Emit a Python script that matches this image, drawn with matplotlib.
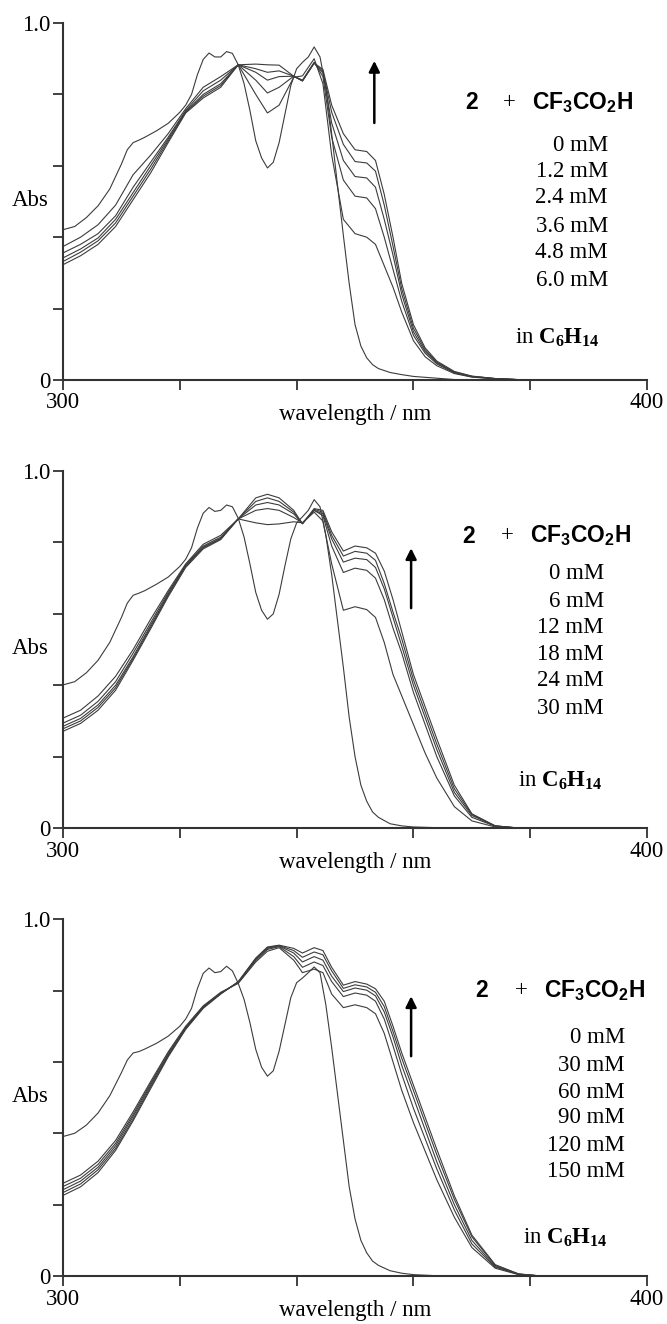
import numpy as np
import matplotlib
matplotlib.use('Agg')
import matplotlib.pyplot as plt

plt.rcParams['font.family'] = ['Liberation Serif', 'DejaVu Serif']
plt.rcParams['mathtext.fontset'] = 'custom'
plt.rcParams['mathtext.rm'] = 'Liberation Serif'
plt.rcParams['mathtext.bf'] = 'Liberation Serif:bold'
plt.rcParams['mathtext.sf'] = 'Liberation Sans:bold'

# wavelength grids (nm)
wl_n = [300, 302, 304, 306, 308, 310, 311, 312, 313, 314, 316, 318, 320, 321, 322,
        323, 324, 325, 326, 327, 328, 329, 330, 331, 332, 333, 334, 335, 336, 337,
        338, 339, 340, 341, 342, 343, 344, 345, 346, 347, 348, 349, 350, 351, 352,
        353, 354, 356, 358, 360, 364, 368]
wl_a = [300, 303, 306, 309, 312, 315, 318, 321, 324, 327, 330, 333, 335, 337, 339.5,
        341, 343, 344.5, 346, 348, 350, 352, 353.5, 355, 356.5, 358, 360, 362, 364,
        367, 370, 374, 378, 382]

# ---- panel 1 : 0 - 6.0 mM
conc_1 = ['0 mM', '1.2 mM', '2.4 mM', '3.6 mM', '4.8 mM', '6.0 mM']
neutral_1 = [.421, .43, .455, .488, .535, .605, .645, .665, .672, .68, .698, .719, .75, .77, .80,
             .855, .898, .916, .905, .905, .92, .915, .883, .83, .755, .67, .622, .594, .61, .665,
             .745, .825, .872, .89, .905, .933, .905, .82, .69, .545, .405, .27, .155, .095, .062,
             .043, .032, .021, .015, .01, .005, 0]
acid_1 = [
    [.374, .40, .435, .49, .575, .63, .69, .76, .82, .85, .883, .80, .748, .77, .848, .852, .90, .83,
     .63, .45, .41, .40, .38, .32, .26, .19, .11, .065, .04, .018, .008, .003, .001, 0],
    [.356, .38, .41, .46, .54, .61, .68, .755, .81, .84, .883, .84, .804, .82, .851, .84, .89, .85,
     .68, .56, .515, .51, .48, .40, .31, .22, .125, .075, .045, .02, .009, .003, .001, 0],
    [.342, .367, .398, .45, .525, .60, .675, .752, .80, .83, .883, .862, .84, .85, .851, .838, .888, .86,
     .72, .615, .57, .566, .54, .45, .35, .24, .135, .08, .048, .021, .01, .004, .001, 0],
    [.332, .358, .39, .44, .515, .59, .67, .75, .795, .825, .883, .872, .862, .866, .851, .838, .888, .865,
     .75, .66, .612, .608, .585, .49, .375, .255, .145, .085, .05, .022, .01, .004, .001, 0],
    [.323, .348, .38, .43, .505, .58, .665, .748, .79, .82, .883, .885, .883, .882, .851, .838, .888, .87,
     .77, .69, .645, .64, .615, .52, .40, .27, .155, .09, .053, .024, .011, .004, .001, 0],
]

# ---- panel 2 : 0 - 30 mM
conc_2 = ['0 mM', '6 mM', '12 mM', '18 mM', '24 mM', '30 mM']
neutral_2 = [.401, .41, .435, .47, .52, .59, .63, .652, .658, .665, .683, .703, .733, .753, .785,
             .84, .882, .898, .887, .89, .905, .90, .868, .815, .74, .66, .61, .585, .60, .655,
             .735, .81, .855, .872, .89, .92, .90, .82, .71, .58, .45, .31, .20, .12, .075,
             .045, .03, .012, .006, .003, .001, 0]
acid_2 = [
    [.308, .33, .37, .425, .50, .585, .665, .74, .795, .82, .866, .855, .85, .852, .858, .855, .885, .86,
     .74, .61, .62, .612, .59, .52, .43, .37, .29, .21, .14, .06, .02, .003, 0, 0],
    [.294, .316, .355, .41, .49, .575, .66, .737, .79, .815, .866, .89, .895, .89, .87, .855, .89, .875,
     .79, .716, .728, .722, .70, .64, .56, .49, .38, .29, .20, .09, .03, .005, 0, 0],
    [.285, .307, .345, .40, .48, .568, .655, .735, .787, .812, .866, .905, .912, .905, .88, .853, .89, .88,
     .81, .745, .756, .752, .73, .67, .59, .51, .40, .31, .22, .10, .035, .006, 0, 0],
    [.278, .30, .338, .393, .475, .563, .652, .733, .785, .81, .866, .915, .925, .915, .885, .853, .893, .885,
     .82, .762, .775, .77, .75, .685, .605, .53, .415, .325, .235, .11, .038, .006, 0, 0],
    [.271, .293, .33, .386, .47, .558, .648, .73, .782, .808, .866, .925, .935, .925, .89, .852, .895, .89,
     .83, .776, .79, .785, .77, .72, .64, .55, .43, .34, .25, .12, .04, .006, 0, 0],
]

# ---- panel 3 : 0 - 150 mM
conc_3 = ['0 mM', '30 mM', '60 mM', '90 mM', '120 mM', '150 mM']
neutral_3 = [.391, .40, .423, .457, .505, .57, .605, .625, .629, .636, .652, .672, .70, .72, .75,
             .805, .848, .863, .85, .853, .868, .855, .82, .775, .71, .635, .585, .56, .575, .63,
             .705, .78, .822, .835, .85, .866, .85, .76, .64, .51, .38, .25, .16, .10, .065,
             .042, .03, .015, .008, .004, .001, 0]
acid_3 = [
    [.26, .283, .322, .38, .46, .545, .628, .70, .757, .795, .82, .88, .91, .92, .885, .85, .86, .85,
     .79, .752, .76, .752, .735, .68, .60, .52, .43, .35, .27, .165, .08, .022, .004, 0],
    [.251, .274, .313, .372, .453, .54, .624, .697, .755, .793, .822, .884, .915, .923, .895, .865, .88, .87,
     .825, .783, .793, .787, .77, .72, .645, .565, .47, .385, .30, .185, .09, .025, .005, 0],
    [.242, .266, .305, .365, .447, .535, .62, .695, .753, .792, .823, .887, .918, .925, .905, .88, .895, .885,
     .84, .797, .807, .801, .785, .74, .67, .59, .50, .41, .32, .20, .10, .027, .005, 0],
    [.234, .258, .298, .358, .44, .53, .617, .693, .752, .791, .824, .889, .92, .926, .912, .893, .908, .90,
     .855, .806, .816, .81, .795, .755, .685, .61, .52, .43, .34, .215, .11, .03, .006, 0],
    [.226, .25, .29, .352, .435, .525, .614, .691, .75, .79, .825, .891, .922, .927, .918, .905, .92, .912,
     .865, .815, .825, .818, .805, .77, .70, .625, .535, .445, .355, .225, .115, .032, .006, 0],
]

FS = 16.5
LINE = '#3c3c3c'


def draw_panel(ax, neutral, acids, conc, lay):
    ax.plot(wl_n, neutral, color=LINE, lw=0.8)
    for a in acids:
        ax.plot(wl_a, a, color=LINE, lw=0.8)

    ax.set_xlim(300, 400)
    ax.set_ylim(0, 1.0)
    ax.spines['top'].set_visible(False)
    ax.spines['right'].set_visible(False)
    for s in ('left', 'bottom'):
        ax.spines[s].set_linewidth(1.5)
        ax.spines[s].set_color('#333333')
    ax.set_xticks([300, 320, 340, 360, 380, 400])
    ax.set_xticklabels(['300', '', '', '', '', '400'])
    ax.set_yticks([0, 0.2, 0.4, 0.6, 0.8, 1.0])
    ax.set_yticklabels(['0', '', '', '', '', '1.0'])
    ax.tick_params(direction='out', length=7, width=1.3, color='#333333',
                   labelsize=FS, pad=2)
    ax.set_xlabel('wavelength / nm', fontsize=FS, labelpad=-7)
    ax.set_ylabel('Abs', fontsize=FS, rotation=0, ha='center', va='center')
    ax.yaxis.set_label_coords(-0.057, 0.504)

    # titration legend
    ax.text(lay['two'], lay['head'], '2', fontsize=FS, family='Liberation Sans',
            weight='bold', ha='center', va='center')
    ax.text(lay['plus'], lay['head'], '+', fontsize=FS, ha='center', va='center')
    ax.text(lay['acid'], lay['head'], r'$\mathsf{CF_3CO_2H}$', fontsize=FS,
            ha='left', va='center')
    for lab, y in zip(conc, lay['rows']):
        ax.text(lay['right'], y, lab, fontsize=FS, ha='right', va='center')
    ax.text(lay['solv'][0], lay['solv'][1], r'in $\mathbf{C_6H_{14}}$', fontsize=FS,
            ha='left', va='center')
    ax.annotate('', xy=(lay['arrow'][0], lay['arrow'][2]),
                xytext=(lay['arrow'][0], lay['arrow'][1]),
                arrowprops=dict(arrowstyle='-|>', color='black', lw=1.8,
                                mutation_scale=16, shrinkA=0, shrinkB=0))


layouts = [
    dict(two=369.9, plus=376.4, acid=380.3, head=0.776, right=393.3,
         rows=[.658, .583, .510, .431, .356, .280], solv=(377.4, .118),
         arrow=(353.3, .72, .894)),
    dict(two=369.5, plus=376.0, acid=380.0, head=0.818, right=392.6,
         rows=[.714, .636, .563, .485, .412, .336], solv=(377.9, .132),
         arrow=(359.6, .616, .784)),
    dict(two=371.7, plus=378.4, acid=382.4, head=0.801, right=396.2,
         rows=[.667, .591, .515, .443, .367, .294], solv=(378.8, .106),
         arrow=(359.6, .616, .784)),
]

fig = plt.figure(figsize=(6.67, 13.24), dpi=100)
bottoms = [0.7130, 0.3746, 0.0362]
panels = [(neutral_1, acid_1, conc_1), (neutral_2, acid_2, conc_2), (neutral_3, acid_3, conc_3)]
for b, (neu, ac, cc), lay in zip(bottoms, panels, layouts):
    ax = fig.add_axes([0.0945, b, 0.8756, 0.2696])
    draw_panel(ax, neu, ac, cc, lay)

fig.savefig('out.png', dpi=100, facecolor='white')
